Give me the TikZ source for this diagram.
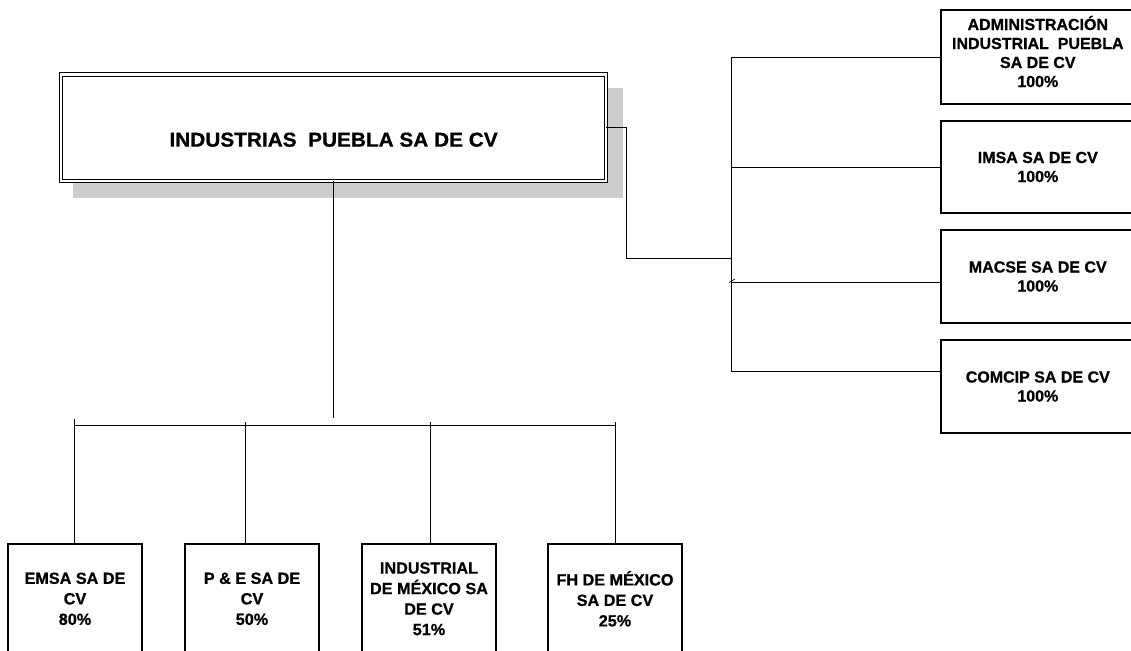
\documentclass[tikz,border=0pt]{standalone}
\usepackage{fontspec}
\setmainfont{Liberation Sans}[FakeStretch=1.0, FakeBold=0.8]
\newfontfamily\titlefont{Liberation Sans}[FakeStretch=1.04, FakeBold=0.8]
\begin{document}
\begin{tikzpicture}[x=1pt,y=-1pt,
  conn/.style={line width=0.9pt},
  sbox/.style={draw, line width=1.6pt, inner sep=0pt, align=center},
  rfont/.style={font=\fontsize{16}{19}\selectfont\bfseries},
  bfont/.style={font=\fontsize{16.2}{20.5}\selectfont\bfseries},
  rbox/.style={sbox, rfont, anchor=west, minimum width=194pt},
  bbox/.style={sbox, bfont, anchor=north, minimum width=134pt, minimum height=110pt},
]
\useasboundingbox (0,0) rectangle (1131,650);
% shadow of the main box
\fill[black!20] (73,88) rectangle (623,198);
\node[draw, double, double distance=2.4pt, line width=0.9pt, fill=white,
  minimum width=544.7pt, minimum height=106.5pt, inner sep=0pt,
  label={[font=\titlefont\fontsize{20}{23}\selectfont\bfseries, yshift=-12pt]center:INDUSTRIAS\ \ PUEBLA SA DE CV}]
  (main) at (333.6,127.7) {};

% right boxes
\node[rbox, minimum height=94pt,
  label={[rfont, align=center, yshift=5.5pt]center:ADMINISTRACIÓN\\INDUSTRIAL\ \ PUEBLA\\SA DE CV\\100\%}]
  (r1) at (940,57) {};
\node[rbox, minimum height=92pt] (r2) at (940,167) {IMSA SA DE CV\\100\%};
\node[rbox, minimum height=93pt] (r3) at (940,276.5) {MACSE SA DE CV\\100\%};
\node[rbox, minimum height=93pt] (r4) at (940,386.5) {COMCIP SA DE CV\\100\%};

% bottom boxes
\node[bbox] (b1) at (75,543) {EMSA SA DE\\CV\\80\%};
\node[bbox] (b2) at (252,543) {P \& E SA DE\\CV\\50\%};
\node[bbox] (b3) at (429,543) {INDUSTRIAL\\DE MÉXICO SA\\DE CV\\51\%};
\node[bbox] (b4) at (615,543) {FH DE MÉXICO\\SA DE CV\\25\%};

% connectors to the right
\coordinate (elb) at (626,258);
\coordinate (ttop) at (731,57);
\coordinate (tbot) at (731,371);
\coordinate (tj) at (731,258);
\coordinate (b3j) at (731,282);
\draw[conn] (main.east) -| (elb) -- (tj);
\draw[conn] (r1.west) -- (ttop) -- (tbot) -- (tbot -| r4.west);
\draw[conn] (r2.west) -- (r2.west -| ttop);
\draw[conn] (b3j -| r3.west) -- (b3j);
\draw[line width=0.6pt] (b3j) ++(-2,0.5) -- ++(6,-3.5);

% connectors to the bottom
\coordinate (mv) at (333.6,418);
\coordinate (v1) at (74,419);
\coordinate (v2) at (245,422);
\coordinate (v3) at (430,422);
\coordinate (v4) at (615,422);
\draw[conn] (main.south) -- (mv);
\draw[conn] (74,425) -- (615,425);
\draw[conn] (v1) -- (v1 |- b1.north);
\draw[conn] (v2) -- (v2 |- b2.north);
\draw[conn] (v3) -- (v3 |- b3.north);
\draw[conn] (v4) -- (v4 |- b4.north);
\end{tikzpicture}
\end{document}
